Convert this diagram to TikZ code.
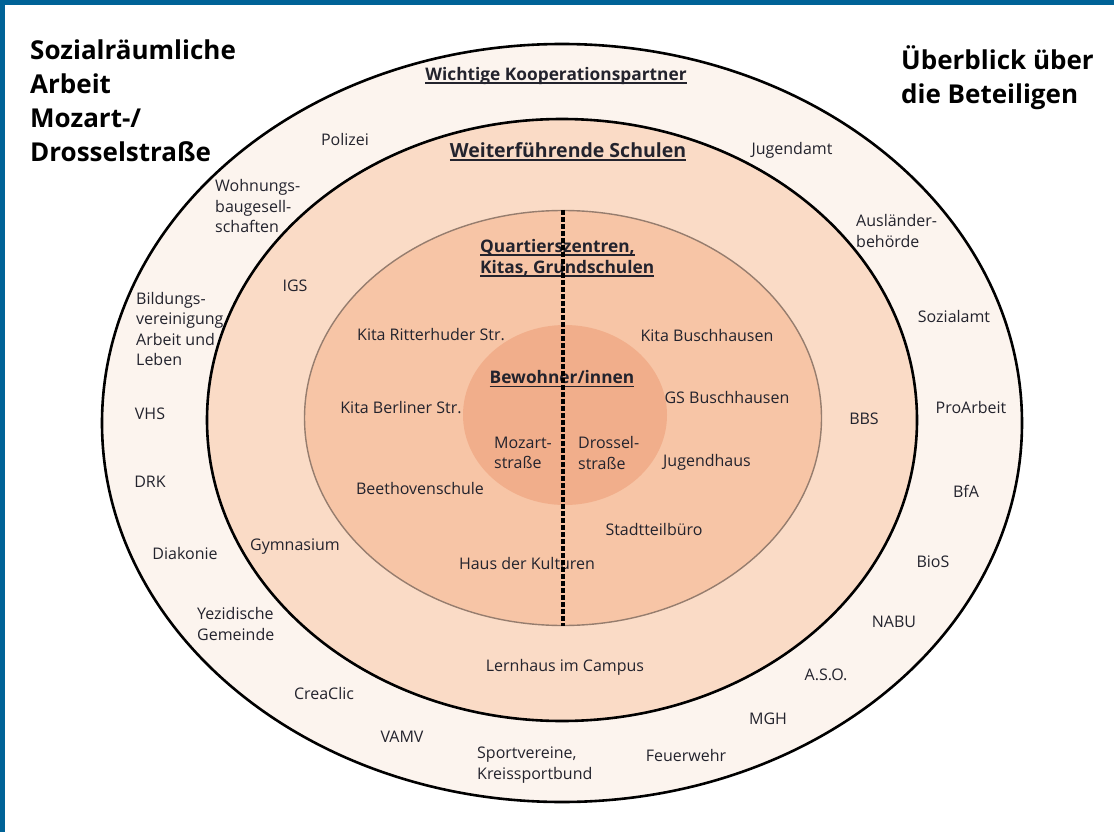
\documentclass[tikz,border=0pt]{standalone}
\usepackage{fontspec}
\setmainfont{Open Sans}
\usepackage{xcolor}
\usepackage{tikz}
\usetikzlibrary{shapes.geometric, positioning}
\definecolor{frameblue}{RGB}{0, 99, 151}
\definecolor{textdark}{RGB}{35, 35, 45}
\definecolor{ringouter}{RGB}{252, 244, 238}
\definecolor{ringmiddle}{RGB}{250, 219, 198}
\definecolor{ringinner}{RGB}{247, 197, 166}
\definecolor{ringcore}{RGB}{241, 174, 139}
\definecolor{innergray}{RGB}{150, 125, 110}

\newsavebox\headbox
\newcommand{\ulhead}[1]{\sbox\headbox{#1}\rlap{\rule[-3.5pt]{\wd\headbox}{1.8pt}}\usebox\headbox}

\begin{document}
\begin{tikzpicture}[x=1pt, y=-1pt,
    ring/.style={ellipse, draw=black, line width=2.6pt, inner sep=0pt},
    entry/.style={font=\fontsize{16}{20.5}\selectfont, text=textdark, inner sep=0pt},
    multi/.style={entry, align=left, anchor=west},
    heading/.style={font=\fontsize{17.3}{21}\selectfont\bfseries, text=textdark, inner sep=0pt},
    title/.style={font=\fontsize{26}{34}\selectfont\bfseries, text=black, align=left, anchor=west, inner sep=0pt},
    divider/.style={line width=3.6pt, dash pattern=on 5pt off 2pt}
]
    \useasboundingbox (0,0) rectangle (1114,832);
    \fill[white] (0,0) rectangle (1114,832);
    \fill[frameblue] (0,0) rectangle (1114,5);
    \fill[frameblue] (0,0) rectangle (5,832);

    % Rings
    \node[ring, fill=ringouter, minimum width=920pt, minimum height=758pt] (partners) at (562,423) {};
    \node[ring, fill=ringmiddle, minimum width=710pt, minimum height=602pt] (schools) at (562,420) {};
    \node[ellipse, draw=innergray, line width=1.4pt, fill=ringinner, inner sep=0pt,
          minimum width=517pt, minimum height=415pt] (quarter) at (563,418) {};
    \node[ellipse, fill=ringcore, inner sep=0pt, minimum width=204pt, minimum height=180pt] (residents) at (565,415) {};

    % Titles
    \node[title] (maintitle) at (30,101) {Sozialräumliche\\Arbeit\\Mozart-/\\Drosselstraße};
    \node[title] (overview) at (901,78) {Überblick über\\die Beteiligen};

    % Headings
    \node[heading] (partnerhead) at (556,76) {\ulhead{Wichtige Kooperationspartner}};
    \node[heading, font=\fontsize{19.5}{21}\selectfont\bfseries] (schoolhead) at (568,152) {\ulhead{Weiterführende Schulen}};
    \node[heading, align=left, anchor=west] (quarterhead) at (480,258) {\ulhead{Quartierszentren,}\\\ulhead{Kitas, Grundschulen}};
    \node[heading] (residenthead) at (562,379) {\ulhead{Bewohner/innen}};

    % Cooperation partners
    \node[entry] (polizei) at (345,140) {Polizei};
    \node[entry] (jugendamt) at (792,150) {Jugendamt};
    \node[multi] (wohnbau) at (215,206) {Wohnungs-\\baugesell-\\schaften};
    \node[multi] (auslaender) at (856,231) {Ausländer-\\behörde};
    \node[entry] (sozialamt) at (954,316) {Sozialamt};
    \node[multi] (bildung) at (136,329) {Bildungs-\\vereinigung\\Arbeit und\\Leben};
    \node[entry] (vhs) at (150,414) {VHS};
    \node[entry] (proarbeit) at (971,407) {ProArbeit};
    \node[entry] (drk) at (150,482) {DRK};
    \node[entry] (bfa) at (966,491) {BfA};
    \node[entry] (diakonie) at (185,553) {Diakonie};
    \node[entry] (bios) at (933,562) {BioS};
    \node[multi] (yezidi) at (197,624) {Yezidische\\Gemeinde};
    \node[entry] (nabu) at (894,622) {NABU};
    \node[entry] (aso) at (826,675) {A.S.O.};
    \node[entry] (creaclic) at (324,693) {CreaClic};
    \node[entry] (mgh) at (768,719) {MGH};
    \node[entry] (vamv) at (402,737) {VAMV};
    \node[multi] (sport) at (477,765) {Sportvereine,\\Kreissportbund};
    \node[entry] (feuerwehr) at (686,755) {Feuerwehr};

    % Secondary schools
    \node[entry] (igs) at (295,286) {IGS};
    \node[entry] (bbs) at (864,419) {BBS};
    \node[entry] (gymnasium) at (295,547) {Gymnasium};
    \node[entry] (lernhaus) at (565,667) {Lernhaus im Campus};

    % Quarter centres, Kitas, primary schools
    \node[entry] (kitaritter) at (431,335) {Kita Ritterhuder Str.};
    \node[entry] (kitabusch) at (707,335) {Kita Buschhausen};
    \node[entry] (kitaberlin) at (401,408) {Kita Berliner Str.};
    \node[entry] (gsbusch) at (727,397) {GS Buschhausen};
    \node[entry] (jugendhaus) at (707,462) {Jugendhaus};
    \node[entry] (beethoven) at (420,488) {Beethovenschule};
    \node[entry] (stadtteil) at (654,529) {Stadtteilbüro};
    \node[entry] (kulturen) at (527,563) {Haus der Kulturen};

    % Residents
    \node[multi] (mozart) at (494,453) {Mozart-\\straße};
    \node[multi] (drossel) at (578,453) {Drossel-\\straße};

    % Divider
    \draw[divider] (quarter.north) -- (quarter.south);
\end{tikzpicture}
\end{document}
